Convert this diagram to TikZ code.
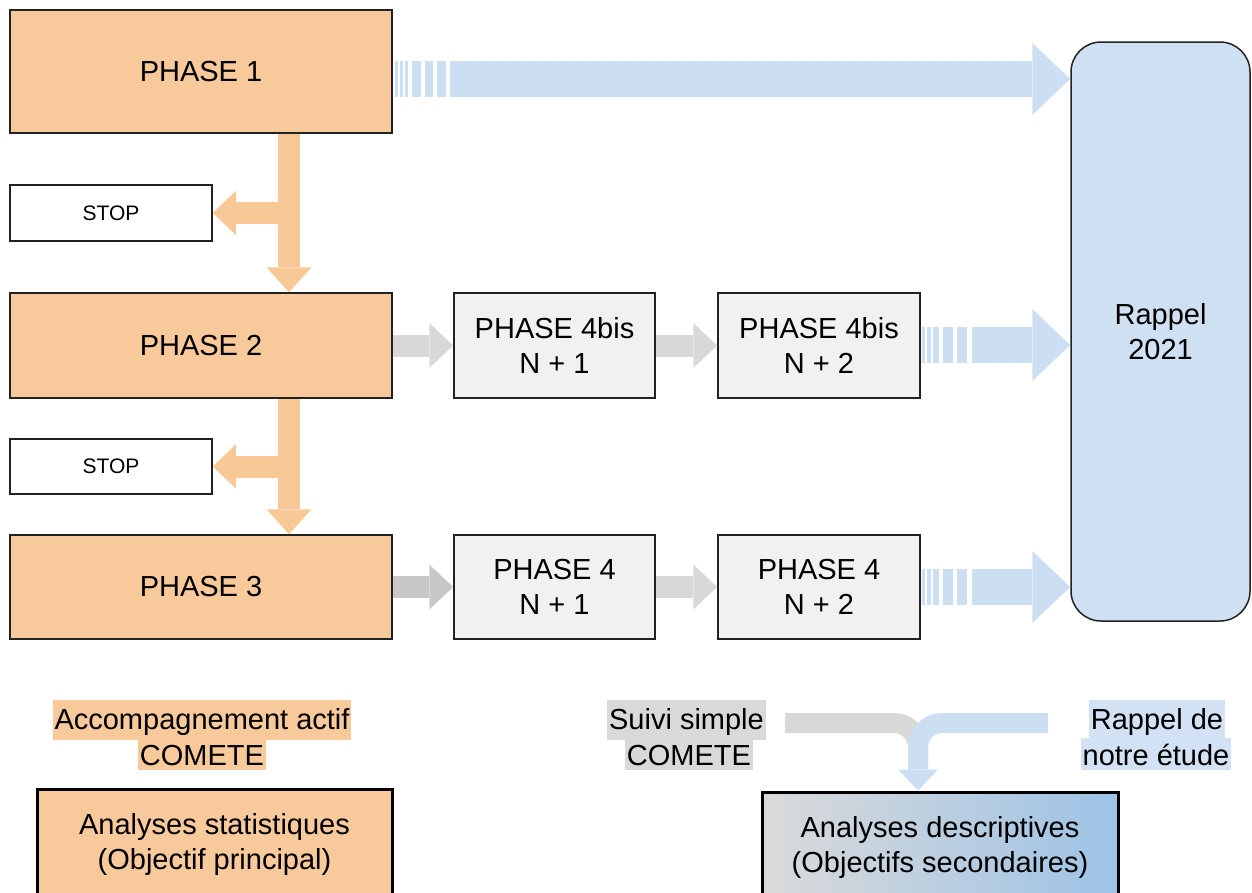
\documentclass[tikz,border=0pt]{standalone}
\usepackage{fontspec}
\setmainfont{Liberation Sans}
\usetikzlibrary{arrows.meta,calc}
\definecolor{orfill}{HTML}{F8C99A}
\definecolor{orarrow}{HTML}{F9C897}
\definecolor{bluefill}{HTML}{CFE0F2}
\definecolor{bluearrow}{HTML}{CCDFF2}
\definecolor{grayfill}{HTML}{F2F0F0}
\definecolor{grayarrowc}{HTML}{DAD7D7}
\definecolor{grayarrowd}{HTML}{C8C8C8}
\definecolor{hlgray}{HTML}{D9D9D9}
\definecolor{hlblue}{HTML}{D2E2F4}
\definecolor{descgray}{HTML}{DADADA}
\definecolor{descblue}{HTML}{9DC3E6}
\definecolor{edge}{HTML}{222222}
\begin{document}
\begin{tikzpicture}[x=1pt,y=-1pt,
  box/.style={draw=edge, line width=1.5pt, inner sep=0pt, align=center, font=\fontsize{29}{35}\selectfont},
  phasebox/.style={box, fill=orfill, minimum width=382pt},
  greybox/.style={box, fill=grayfill, minimum width=201pt, minimum height=105pt},
  stopbox/.style={box, fill=white, minimum width=202pt, minimum height=56pt, font=\fontsize{21}{25}\selectfont},
  resultbox/.style={draw=black, line width=3pt, inner sep=0pt, align=center, minimum width=355pt, minimum height=110pt, font=\fontsize{29}{35}\selectfont},
  hl/.style={inner xsep=2pt, inner ysep=0pt, anchor=base, font=\fontsize{29}{35}\selectfont, text height=29pt, text depth=11pt},
  hltwo/.style={hl, text height=27pt, text depth=5pt},
  orarr/.style={draw=orarrow, line width=22pt, -{Triangle[width=45pt,length=25pt,line width=0pt]}},
  orbranch/.style={draw=orarrow, line width=22pt, -{Triangle[width=44pt,length=23pt,line width=0pt]}},
  grarr/.style={draw=grayarrowc, line width=22pt, -{Triangle[width=45pt,length=24pt,line width=0pt]}},
  grarrdark/.style={grarr, draw=grayarrowd},
  blarr/.style={draw=bluearrow, line width=36pt, -{Triangle[width=72pt,length=38pt,line width=0pt]}},
  stripe/.style={fill=bluearrow},
]
\useasboundingbox (0,0) rectangle (1252,892);
\clip (0,0) rectangle (1252,892);

% main boxes
\node[phasebox, minimum height=123pt] (p1) at (201,71.5) {PHASE 1};
\node[stopbox] (s1) at (111,213) {STOP};
\node[phasebox, minimum height=105pt] (p2) at (201,345.5) {PHASE 2};
\node[stopbox, minimum height=55pt] (s2) at (111,466.5) {STOP};
\node[phasebox, minimum height=104pt] (p3) at (201,587) {PHASE 3};
\node[greybox] (b41) at (554.5,345.5) {PHASE 4bis\\N + 1};
\node[greybox, minimum width=202pt] (b42) at (819,345.5) {PHASE 4bis\\N + 2};
\node[greybox, minimum height=104pt] (q41) at (554.5,587) {PHASE 4\\N + 1};
\node[greybox, minimum width=202pt, minimum height=104pt] (q42) at (819,587) {PHASE 4\\N + 2};
\node[box, fill=bluefill, rounded corners=30pt, minimum width=179pt, minimum height=579pt] (rap) at (1160.5,331.5) {Rappel\\2021};

% orange arrows
\coordinate (ox) at (289,0);
\draw[orarr] (p1.south -| ox) -- (p2.north -| ox);
\draw[orbranch] (ox |- s1.east) -- (s1.east);
\draw[orarr] (p2.south -| ox) -- (p3.north -| ox);
\draw[orbranch] (ox |- s2.east) -- (s2.east);

% grey arrows
\draw[grarr] (p2.east) -- (b41.west);
\draw[grarr] (b41.east) -- (b42.west);
\draw[grarrdark] (p3.east) -- (q41.west);
\draw[grarr] (q41.east) -- (q42.west);

% blue striped arrows
\coordinate (a1) at (392,79);
\foreach \u/\v in {3/5.5,7.5/10.5,13/16,20/28.5,32.5/41,45/54}
  \fill[stripe] ($(a1)+(\u,-18)$) rectangle ($(a1)+(\v,18)$);
\draw[blarr] ($(a1)+(58,0)$) -- (a1 -| rap.west);

\coordinate (a2) at (920,345);
\foreach \u/\v in {2/4.5,6.5/10.5,13/19,23/33,37/47}
  \fill[stripe] ($(a2)+(\u,-18)$) rectangle ($(a2)+(\v,18)$);
\draw[blarr] ($(a2)+(52,0)$) -- (a2 -| rap.west);

\coordinate (a3) at (920,587);
\foreach \u/\v in {2/4.5,6.5/10.5,13/19,23/33,37/47}
  \fill[stripe] ($(a3)+(\u,-18)$) rectangle ($(a3)+(\v,18)$);
\draw[blarr] ($(a3)+(52,0)$) -- (a3 -| rap.west);

% legend labels
\node[hltwo, fill=orfill] (acc2) at (202,765) {COMETE};
\node[hl, fill=orfill] (acc1) at (202,729) {Accompagnement actif};
\node[hltwo, fill=hlgray] (sui2) at (689,765) {COMETE};
\node[hl, fill=hlgray] (sui1) at (686.5,729) {Suivi simple};
\node[hltwo, fill=hlblue] (rde2) at (1156,765) {notre étude};
\node[hl, fill=hlblue] (rde1) at (1157,729) {Rappel de};

% result boxes
\node[resultbox, fill=orfill] (stat) at (214.5,844) {Analyses statistiques\\(Objectif principal)};
\node[resultbox, left color=descgray, right color=descblue, minimum width=356pt] (desc) at (940,847) {Analyses descriptives\\(Objectifs secondaires)};

% merging connector
\coordinate (mx) at (918,723);
\coordinate (gs) at (785,723);
\coordinate (bs) at (1048,723);
\draw[draw=grayarrowc, line width=20pt, rounded corners=24pt] (gs) -- (mx) -- ($(mx)+(0,40)$);
\draw[draw=bluearrow, line width=20pt, rounded corners=24pt, -{Triangle[width=40pt,length=21pt,line width=0pt]}] (bs) -- (mx) -- (mx |- desc.north);
\end{tikzpicture}
\end{document}
